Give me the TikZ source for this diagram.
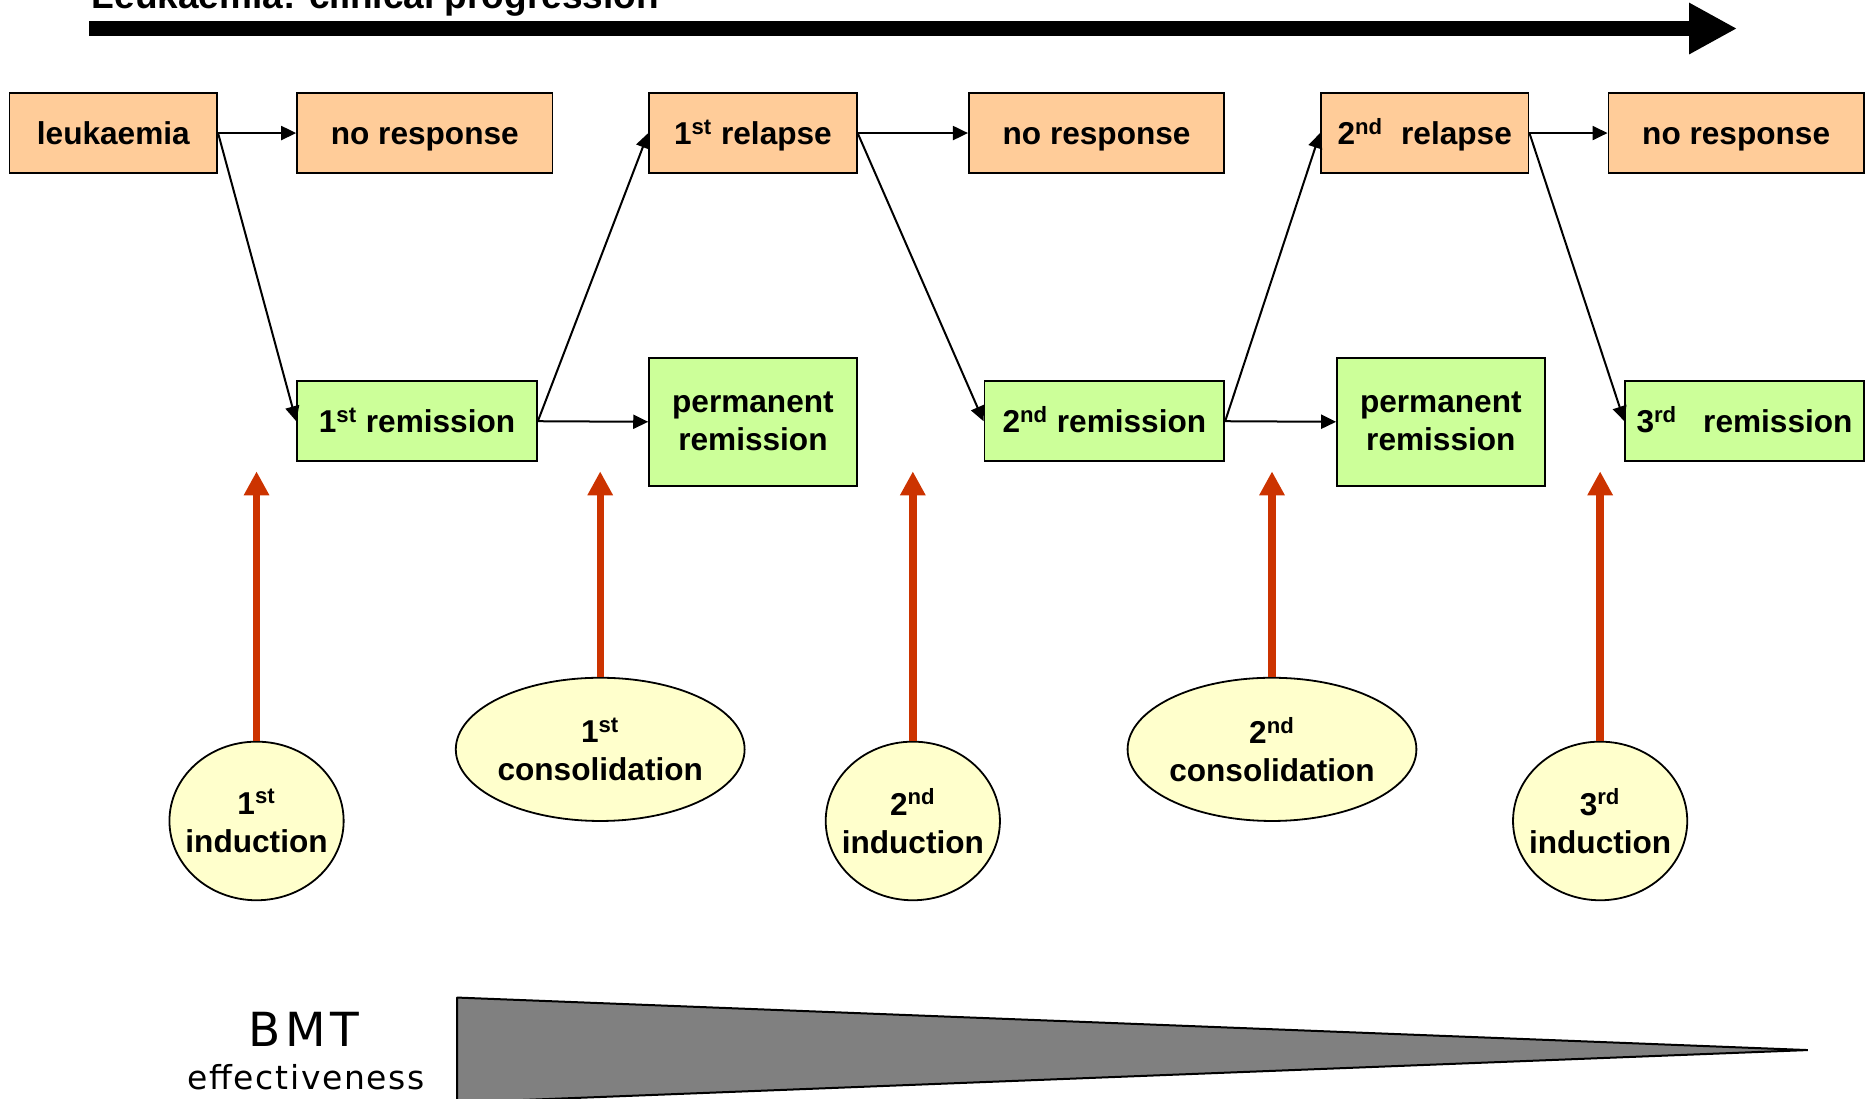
\documentclass[tikz,border=0pt]{standalone}
\usepackage{fontspec}
\setmainfont{Liberation Sans}
\newfontfamily\bmtfont{DejaVu Sans}
\usetikzlibrary{arrows.meta,shapes.geometric}
\definecolor{stateorange}{HTML}{FFCC99}
\definecolor{stategreen}{HTML}{CCFF99}
\definecolor{therapyyellow}{HTML}{FFFFCC}
\definecolor{therapyred}{HTML}{CC3300}
\definecolor{bmtgray}{HTML}{808080}

\begin{document}
\begin{tikzpicture}[x=0.5966pt,y=-0.5966pt,
  every node/.style={font=\fontsize{15.8}{19}\selectfont\bfseries, inner sep=0pt},
  statebox/.style={rectangle, draw=black, line width=0.9pt, minimum height=40pt, align=center},
  oneline/.style={text height=11.5pt, text depth=0pt},
  relapsebox/.style={statebox, oneline, fill=stateorange},
  remitbox/.style={statebox, oneline, fill=stategreen},
  permbox/.style={statebox, fill=stategreen, minimum width=103.8pt, minimum height=63.8pt},
  therapy/.style={ellipse, draw=black, line width=0.9pt, fill=therapyyellow, align=center, inner xsep=-6pt},
  induction/.style={therapy, minimum width=87.1pt, minimum height=79.3pt},
  consolidation/.style={therapy, minimum width=144.4pt, minimum height=71.6pt},
  flow/.style={draw=black, line width=1pt, -{Triangle[length=7.5pt,width=7pt]}},
  treat/.style={draw=therapyred, line width=3.7pt, -{Triangle[length=12pt,width=12pt]}},
]
\useasboundingbox (0,0) rectangle (1568,921);

% heading and time axis
\node[anchor=base west, font=\fontsize{18.5}{22}\selectfont\bfseries] (title) at (76.7,7) {Leukaemia: clinical progression};
\coordinate (progstart) at (74.6,23.9);
\coordinate (progend) at (1455.8,23.9);
\draw[line width=7.5pt, -{Triangle[length=24pt,width=24pt]}] (progstart) -- (progend);

% disease states: upper row
\node[relapsebox, minimum width=103.8pt] (leuk) at (95,111.5) {leukaemia};
\node[relapsebox, minimum width=127.7pt] (nr1) at (356,111.5) {no response};
\node[relapsebox, minimum width=103.8pt] (rel1) at (631,111.5) {1\textsuperscript{st} relapse};
\node[relapsebox, minimum width=127.7pt] (nr2) at (919,111.5) {no response};
\node[relapsebox, minimum width=103.8pt] (rel2) at (1194,111.5) {2\textsuperscript{nd}\hspace{9pt}relapse};
\node[relapsebox, minimum width=127.7pt] (nr3) at (1455,111.5) {no response};

% remission states: lower row
\node[remitbox, minimum width=119.9pt] (rem1) at (349.5,353) {1\textsuperscript{st} remission};
\node[permbox] (perm1) at (631,353.5) {permanent\\remission};
\node[remitbox, minimum width=119.9pt] (rem2) at (925.5,353) {2\textsuperscript{nd} remission};
\node[permbox] (perm2) at (1207.5,353.5) {permanent\\remission};
\node[remitbox, minimum width=119.3pt] (rem3) at (1462,353) {3\textsuperscript{rd}\hspace{13pt}remission};

% transitions
\draw[flow] (leuk.east) -- (nr1.west);
\draw[flow] (leuk.east) -- (rem1.west);
\draw[flow] (rem1.east) -- (rel1.west);
\draw[flow] (rem1.east) -- (perm1.west);
\draw[flow] (rel1.east) -- (nr2.west);
\draw[flow] (rel1.east) -- (rem2.west);
\draw[flow] (rem2.east) -- (rel2.west);
\draw[flow] (rem2.east) -- (perm2.west);
\draw[flow] (rel2.east) -- (nr3.west);
\draw[flow] (rel2.east) -- (rem3.west);

% treatments
\node[induction] (ind1) at (215,688) {1\textsuperscript{st}\\induction};
\node[consolidation] (con1) at (503,628) {1\textsuperscript{st}\\consolidation};
\node[induction] (ind2) at (765,688) {2\textsuperscript{nd}\\induction};
\node[consolidation] (con2) at (1066,628) {2\textsuperscript{nd}\\consolidation};
\node[induction] (ind3) at (1341,688) {3\textsuperscript{rd}\\induction};

\coordinate (hit1) at (215,395);
\coordinate (hit2) at (503,395);
\coordinate (hit3) at (765,395);
\coordinate (hit4) at (1066,395);
\coordinate (hit5) at (1341,395);
\draw[treat] (ind1.north) -- (hit1);
\draw[treat] (con1.north) -- (hit2);
\draw[treat] (ind2.north) -- (hit3);
\draw[treat] (con2.north) -- (hit4);
\draw[treat] (ind3.north) -- (hit5);

% decreasing transplant effectiveness wedge
\filldraw[fill=bmtgray, draw=black, line width=1pt, line join=bevel] (383,836) -- (1515,880) -- (383,924) -- cycle;
\node[anchor=base, font=\bmtfont\addfontfeature{LetterSpace=10}\fontsize{23.5}{28}\selectfont] (bmt) at (255,877) {BMT};
\node[anchor=base, font=\bmtfont\addfontfeature{LetterSpace=5}\fontsize{16.5}{20}\selectfont] (bmteff) at (256.6,912.7) {effectiveness};
\end{tikzpicture}
\end{document}
